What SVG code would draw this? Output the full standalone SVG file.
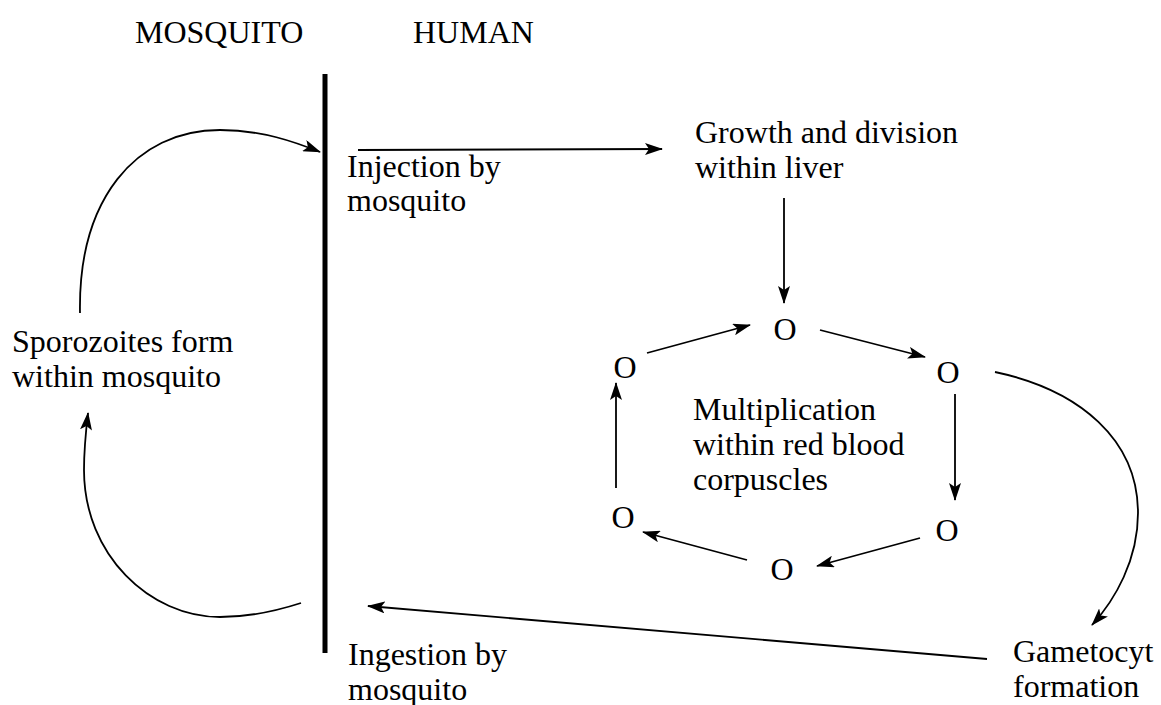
<svg xmlns="http://www.w3.org/2000/svg" width="1161" height="705" viewBox="0 0 1161 705">
<style>
text{font-family:"Liberation Serif","Times New Roman",serif;font-size:32px;fill:#000}
.o{text-anchor:middle}
.c{fill:none;stroke:#000;stroke-width:1.8}
</style>
<defs>
<marker id="ah" markerUnits="userSpaceOnUse" markerWidth="18" markerHeight="12" viewBox="0 0 18 12" refX="17" refY="6" orient="auto">
<path d="M0,0 L18,6 L0,12 L4,6 z" fill="#000"/>
</marker>
</defs>
<rect width="1161" height="705" fill="#fff"/>
<g id="divider"><line x1="325" y1="74" x2="325" y2="653" stroke="#000" stroke-width="5"/></g>
<g id="mosquito-label"><text x="135" y="43">MOSQUITO</text></g>
<g id="human-label"><text x="413" y="43">HUMAN</text></g>
<g id="injection"><text x="347" y="177">Injection by</text><text x="347" y="211">mosquito</text></g>
<g id="liver"><text x="695" y="143">Growth and division</text><text x="695" y="178">within liver</text></g>
<g id="sporozoites"><text x="12" y="352">Sporozoites form</text><text x="12" y="387">within mosquito</text></g>
<g id="multiplication"><text x="693" y="420">Multiplication</text><text x="693" y="455">within red blood</text><text x="693" y="490">corpuscles</text></g>
<g id="ingestion"><text x="348" y="665">Ingestion by</text><text x="348" y="700">mosquito</text></g>
<g id="gametocyte"><text x="1013" y="662">Gametocyt</text><text x="1013" y="697">formation</text></g>
<g id="o-top"><text class="o" x="785" y="340">O</text></g>
<g id="o-top-right"><text class="o" x="948" y="383">O</text></g>
<g id="o-bottom-right"><text class="o" x="947" y="541">O</text></g>
<g id="o-bottom"><text class="o" x="782" y="580">O</text></g>
<g id="o-bottom-left"><text class="o" x="623" y="528">O</text></g>
<g id="o-top-left"><text class="o" x="625" y="378">O</text></g>
<g id="connectors">
<path class="c" d="M80,313 C78,200 135,130 220,130 C262,130 295,142 320,152" marker-end="url(#ah)"/>
<path class="c" d="M301,603 C270,613 245,617 220,617 C150,617 84,555 84,470 C84,450 86,430 88,413" marker-end="url(#ah)"/>
<line class="c" x1="358" y1="150" x2="662" y2="149" marker-end="url(#ah)"/>
<line class="c" x1="784" y1="198" x2="784" y2="303" marker-end="url(#ah)"/>
<line class="c" x1="987" y1="659" x2="368" y2="606" marker-end="url(#ah)"/>
<path class="c" d="M995,372 C1080,390 1138,440 1138,513 C1138,560 1115,600 1092,625" marker-end="url(#ah)"/>
<line class="c" x1="647" y1="353" x2="750" y2="325" marker-end="url(#ah)"/>
<line class="c" x1="820" y1="330" x2="925" y2="357" marker-end="url(#ah)"/>
<line class="c" x1="955" y1="394" x2="955" y2="500" marker-end="url(#ah)"/>
<line class="c" x1="920" y1="538" x2="817" y2="566" marker-end="url(#ah)"/>
<line class="c" x1="747" y1="560" x2="643" y2="532" marker-end="url(#ah)"/>
<line class="c" x1="616" y1="488" x2="616" y2="383" marker-end="url(#ah)"/>
</g>
</svg>
